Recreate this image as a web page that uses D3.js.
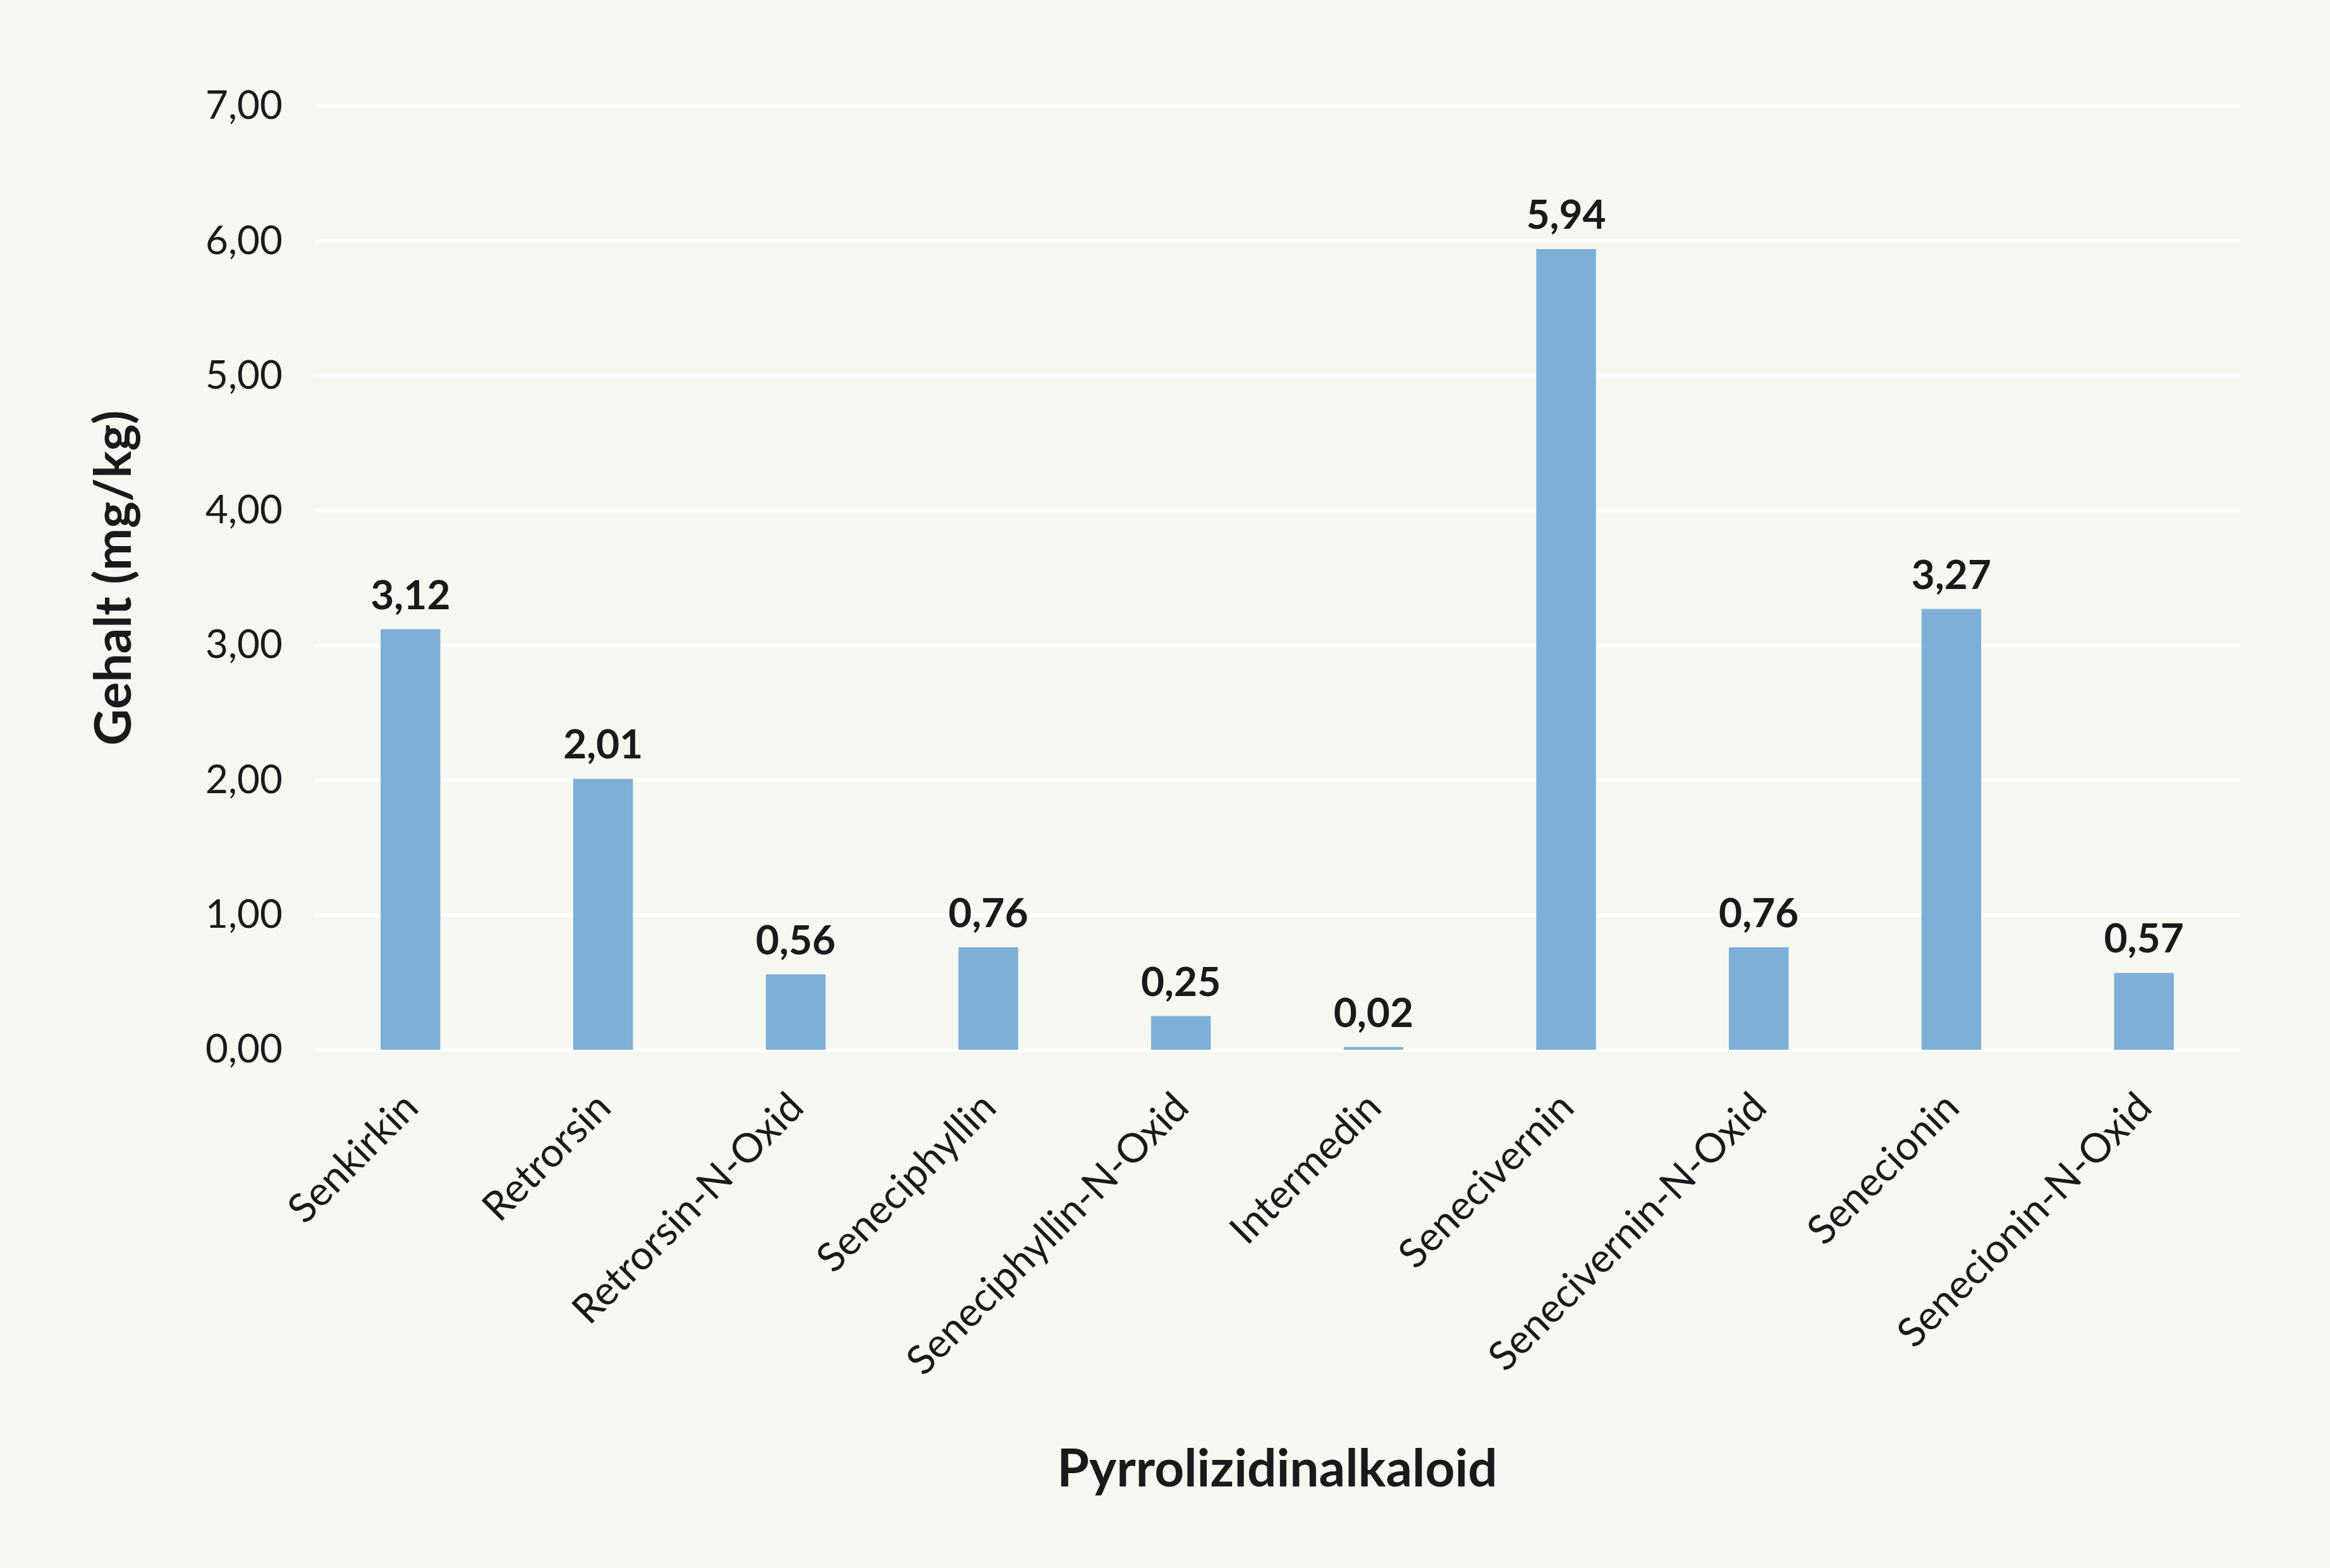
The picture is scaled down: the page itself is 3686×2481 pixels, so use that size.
<!DOCTYPE html>
<html>
<head>
<meta charset="utf-8">
<script src="https://cdn.jsdelivr.net/npm/d3@7"></script>
<style>
  html, body { margin: 0; padding: 0; background: #f5f8f0; }
  svg { display: block; }
</style>
</head>
<body>
<script>
const categories = ["Senkirkin", "Retrorsin", "Retrorsin-N-Oxid", "Seneciphyllin", "Seneciphyllin-N-Oxid", "Intermedin", "Senecivernin", "Senecivernin-N-Oxid", "Senecionin", "Senecionin-N-Oxid"];
const values = [3.12, 2.01, 0.56, 0.76, 0.25, 0.02, 5.94, 0.76, 3.27, 0.57];
const yTicks = [0, 1, 2, 3, 4, 5, 6, 7];
const yTitle = "Gehalt (mg/kg)";
const xTitle = "Pyrrolizidinalkaloid";

const W = 3686, H = 2481;
const font = "Lato, 'Open Sans', sans-serif";
const locale = d3.formatLocale({ decimal: ",", thousands: ".", grouping: [3], currency: ["", "€"] });
const fmt = locale.format(".2f");

const svg = d3.select("body").append("svg").attr("width", W).attr("height", H);
svg.append("rect").attr("width", W).attr("height", H).attr("fill", "#f5f8f0");

const x = d3.scaleBand().domain(categories).range([497, 3544]).paddingInner(0.69).paddingOuter(0.345);
const y = d3.scaleLinear().domain([0, 7]).range([1661, 168]);

// gridlines
svg.append("g").selectAll("line").data(yTicks).join("line")
  .attr("x1", 497).attr("x2", 3544)
  .attr("y1", d => y(d)).attr("y2", d => y(d))
  .attr("stroke", "#ffffff").attr("stroke-width", 6);

// y axis
const yAxis = svg.append("g").attr("transform", "translate(497,0)")
  .call(d3.axisLeft(y).tickValues(yTicks).tickFormat(fmt).tickSize(0).tickPadding(50));
yAxis.select(".domain").remove();
yAxis.selectAll("text").attr("font-family", font).attr("font-size", 62).attr("fill", "#1a1a1a");

// bars
svg.append("g").selectAll("rect").data(values).join("rect")
  .attr("x", (d, i) => x(categories[i]))
  .attr("width", x.bandwidth())
  .attr("y", d => y(d))
  .attr("height", d => y(0) - y(d))
  .attr("fill", "#7eafd7");

// value labels
svg.append("g").selectAll("text").data(values).join("text")
  .attr("x", (d, i) => x(categories[i]) + x.bandwidth() / 2)
  .attr("y", d => y(d) - 32)
  .attr("text-anchor", "middle")
  .attr("font-family", font).attr("font-size", 64).attr("font-weight", "bold")
  .attr("fill", "#1a1a1a")
  .text(d => fmt(d));

// x axis labels
const xAxis = svg.append("g").attr("transform", `translate(0,${y(0)})`)
  .call(d3.axisBottom(x).tickSize(0).tickPadding(0));
xAxis.select(".domain").remove();
xAxis.selectAll(".tick text")
  .attr("font-family", font).attr("font-size", 64).attr("fill", "#1a1a1a")
  .attr("text-anchor", "end")
  .attr("dy", null)
  .attr("transform", "translate(16,95) rotate(-45)");

// axis titles
svg.append("text")
  .attr("transform", `translate(207,${(y(0) + y(7)) / 2}) rotate(-90)`)
  .attr("text-anchor", "middle")
  .attr("font-family", font).attr("font-size", 80).attr("font-weight", "bold")
  .attr("fill", "#1a1a1a")
  .text(yTitle);

svg.append("text")
  .attr("x", (497 + 3544) / 2).attr("y", 2352)
  .attr("text-anchor", "middle")
  .attr("font-family", font).attr("font-size", 82).attr("font-weight", "bold")
  .attr("fill", "#1a1a1a")
  .text(xTitle);
</script>
</body>
</html>
